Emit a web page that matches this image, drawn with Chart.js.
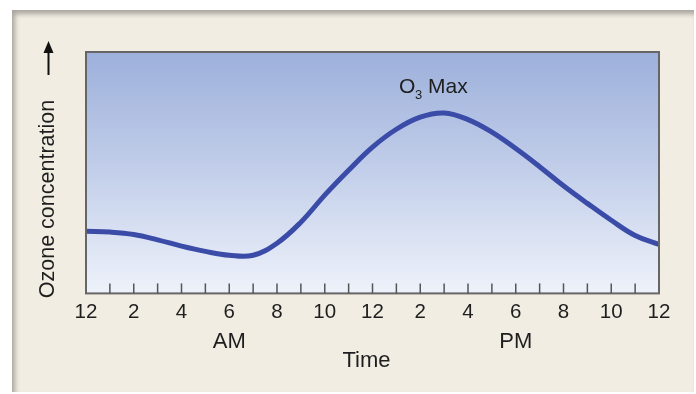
<!DOCTYPE html>
<html>
<head>
<meta charset="utf-8">
<script src="https://cdn.jsdelivr.net/npm/chart.js@4"></script>
<style>
  html, body { margin: 0; padding: 0; background: #fff; }
  #panel {
    position: absolute; left: 12px; top: 10px; width: 682px; height: 382px;
    background: #f2ede3;
    box-shadow: inset 3px 4px 5px rgba(0,0,0,0.3);
  }
  #wrap { position: absolute; left: 0; top: 0; width: 696px; height: 394px; }
</style>
</head>
<body>
<div id="panel"></div>
<div id="wrap"><canvas id="ozoneChart" width="696" height="394"></canvas></div>
<script>
// hours since midnight, and relative ozone level
const hours = [0, 1, 2, 3, 4, 5, 6, 7, 8, 9, 10, 11, 12, 13, 14, 15, 16, 17, 18, 19, 20, 21, 22, 23, 24];
const ozone = [25.7, 25.4, 24.4, 22.2, 19.6, 17.4, 15.8, 15.8, 20.8, 29.5, 40.7, 51.0, 60.6, 68.0, 73.0, 74.7, 72.0, 66.8, 60.0, 52.5, 44.6, 37.3, 30.3, 24.0, 20.3];
const hourLabels = ['12', '2', '4', '6', '8', '10', '12', '2', '4', '6', '8', '10', '12'];
const periodLabels = ['AM', 'PM'];

const FONT = '"Liberation Sans", Arial, Helvetica, sans-serif';

// background gradient, frame, inner tick marks and the free text
const decor = {
  id: 'decor',
  beforeDatasetsDraw(chart) {
    const { ctx, chartArea: a } = chart;
    const g = ctx.createLinearGradient(0, a.top, 0, a.bottom);
    g.addColorStop(0, '#9db0db');
    g.addColorStop(0.5, '#c3cfea');
    g.addColorStop(1, '#eef2fa');
    ctx.save();
    ctx.fillStyle = g;
    ctx.fillRect(a.left, a.top, a.right - a.left, a.bottom - a.top);
    ctx.restore();
  },
  afterDraw(chart) {
    const { ctx, chartArea: a, scales } = chart;
    const x = scales.x;
    ctx.save();
    // frame
    ctx.strokeStyle = '#666';
    ctx.lineWidth = 2;
    ctx.strokeRect(a.left, a.top, a.right - a.left, a.bottom - a.top);
    // hour tick marks pointing up into the plot
    ctx.lineWidth = 1.5;
    ctx.strokeStyle = '#555';
    for (let h = 1; h < 24; h++) {
      const px = x.getPixelForValue(h);
      ctx.beginPath();
      ctx.moveTo(px, a.bottom - 10);
      ctx.lineTo(px, a.bottom);
      ctx.stroke();
    }
    ctx.fillStyle = '#1e1e1e';
    ctx.textBaseline = 'middle';
    ctx.textAlign = 'center';
    ctx.font = '22px ' + FONT;
    ctx.fillText(periodLabels[0], x.getPixelForValue(6), 342);
    ctx.fillText(periodLabels[1], x.getPixelForValue(18), 342);
    ctx.fillText('Time', x.getPixelForValue(11.75), 361);
    // O3 Max
    ctx.textAlign = 'left';
    ctx.textBaseline = 'alphabetic';
    ctx.font = '21px ' + FONT;
    ctx.fillText('O', 399, 93);
    ctx.font = '13px ' + FONT;
    ctx.fillText('3', 415, 99);
    ctx.font = '21px ' + FONT;
    ctx.fillText('Max', 428, 93);
    // y title with arrow
    ctx.save();
    ctx.translate(48, 199);
    ctx.rotate(-Math.PI / 2);
    ctx.textAlign = 'center';
    ctx.textBaseline = 'middle';
    ctx.font = '21.5px ' + FONT;
    ctx.fillText('Ozone concentration', 0, 0);
    ctx.restore();
    ctx.strokeStyle = '#111';
    ctx.fillStyle = '#111';
    ctx.lineWidth = 2;
    ctx.beginPath();
    ctx.moveTo(48.5, 75);
    ctx.lineTo(48.5, 50);
    ctx.stroke();
    ctx.beginPath();
    ctx.moveTo(48.5, 41);
    ctx.lineTo(53.5, 53);
    ctx.lineTo(43.5, 53);
    ctx.closePath();
    ctx.fill();
    ctx.restore();
  }
};

const config = {
  type: 'line',
  data: {
    datasets: [{
      label: 'Ozone',
      data: hours.map((h, i) => ({ x: h, y: ozone[i] })),
      borderColor: '#3a4ca8',
      borderWidth: 5,
      pointRadius: 0,
      tension: 0.4,
      fill: false
    }]
  },
  options: {
    responsive: false,
    animation: false,
    layout: { padding: { left: 86, right: 37, top: 52, bottom: 62 } },
    plugins: {
      legend: { display: false },
      tooltip: { enabled: false }
    },
    scales: {
      x: {
        type: 'linear',
        min: 0,
        max: 24,
        grid: { display: false, drawTicks: false },
        border: { display: false },
        ticks: {
          stepSize: 1,
          autoSkip: false,
          maxRotation: 0,
          padding: 7,
          color: '#1e1e1e',
          font: { size: 20.5, family: FONT },
          callback: (v) => (v % 2 === 0 ? hourLabels[v / 2] : '')
        }
      },
      y: {
        display: false,
        min: 0,
        max: 100
      }
    }
  },
  plugins: [decor]
};

const ozoneChart = new Chart(document.getElementById('ozoneChart'), config);
</script>
</body>
</html>
